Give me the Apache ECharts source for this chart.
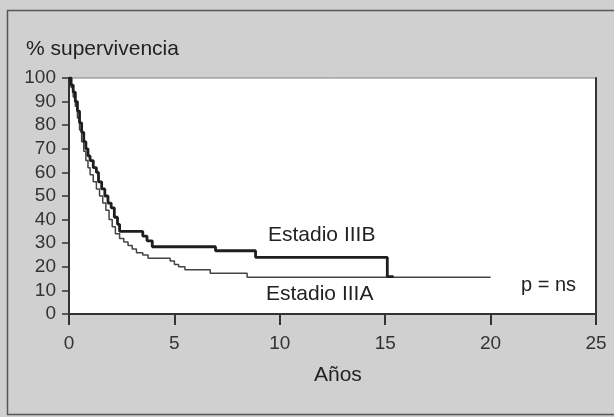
<!DOCTYPE html>
<html><head><meta charset="utf-8">
<script src="https://cdn.jsdelivr.net/npm/echarts@6/dist/echarts.min.js"></script>
<style>html,body{margin:0;padding:0;background:#d0d0d0;}#c{width:614px;height:417px;}</style>
</head><body><div id="c"></div>
<script>
// Kaplan-Meier steps: [years, % survival]
const estadioIIIB = [
 [0,100],[0.1,97],[0.2,94],[0.3,90],[0.4,86],[0.5,81],[0.6,77],[0.7,73],[0.8,70],[0.9,67],
 [1.0,65],[1.15,62],[1.3,60],[1.4,56],[1.55,53],[1.7,50],[1.85,47],[2.0,45],[2.15,41],[2.3,38],
 [2.4,35],[3.5,33],[3.7,31],[3.95,28.5],[6.95,26.8],[8.85,24],[15.1,15.8],[15.4,15.8]
];
const estadioIIIA = [
 [0,100],[0.1,96],[0.2,92],[0.3,88],[0.4,83],[0.5,78],[0.6,73],[0.7,69],[0.8,65],[0.9,62],
 [1.0,59],[1.15,56],[1.3,53],[1.45,50],[1.6,47],[1.75,44],[1.9,40],[2.05,37],[2.2,34],[2.4,32],
 [2.6,30.5],[2.8,29],[3.0,27.5],[3.2,26],[3.5,25],[3.75,23.6],[4.8,22.5],[5.0,21],[5.2,20],
 [5.5,18.7],[6.7,17.3],[8.45,15.6],[20,15.6]
];
const xTicks = [0,5,10,15,20,25];
const yTicks = [0,10,20,30,40,50,60,70,80,90,100];
const labels = {y:'% supervivencia', x:'Años', b:'Estadio IIIB', a:'Estadio IIIA', p:'p = ns'};

const FONT = 'Liberation Sans, Arial, sans-serif';
const chart = echarts.init(document.getElementById('c'));
chart.setOption({
  backgroundColor: '#d0d0d0',
  animation: false,
  grid: {left:69, top:78, right:18, bottom:103, show:true, backgroundColor:'#ffffff', borderColor:'#808080', borderWidth:1},
  xAxis: {type:'value', min:xTicks[0], max:xTicks[xTicks.length-1], interval:5,
    axisLine:{show:true, onZero:false, lineStyle:{color:'#333', width:2}},
    axisTick:{show:true, length:11, lineStyle:{color:'#333', width:2}},
    axisLabel:{margin:20, fontSize:19, color:'#333', fontFamily:FONT},
    splitLine:{show:false}},
  yAxis: [{type:'value', min:yTicks[0], max:yTicks[yTicks.length-1], interval:10,
    axisLine:{show:true, lineStyle:{color:'#333', width:2}},
    axisTick:{show:true, length:7, lineStyle:{color:'#333', width:1.5}},
    axisLabel:{margin:13, fontSize:19, color:'#333', fontFamily:FONT},
    splitLine:{show:false}},
   {type:'value', min:0, max:100, position:'right',
    axisLine:{show:true, lineStyle:{color:'#333', width:2}},
    axisTick:{show:false}, axisLabel:{show:false}, splitLine:{show:false}}],
  series: [
    {type:'line', step:'end', data:estadioIIIA, symbol:'none', lineStyle:{color:'#444', width:1.5}, z:2},
    {type:'line', step:'end', data:estadioIIIB, symbol:'none', lineStyle:{color:'#1e1e1e', width:2.8}, z:3}
  ],
  graphic: [
    {type:'rect', shape:{x:7.5, y:10.5, width:620, height:404}, style:{fill:null, stroke:'#555', lineWidth:1.5}, silent:true, z:-1},
    {type:'text', left:26, top:39, style:{text:labels.y, font:'21px '+FONT, fill:'#222'}},
    {type:'text', left:314, top:365, style:{text:labels.x, font:'21px '+FONT, fill:'#222'}},
    {type:'text', left:268, top:225, style:{text:labels.b, font:'21px '+FONT, fill:'#222'}},
    {type:'text', left:266, top:284, style:{text:labels.a, font:'21px '+FONT, fill:'#222'}},
    {type:'text', left:521, top:275, style:{text:'p\u2009=\u2009ns'.replace(/\u2009/g,' ') , font:'20px '+FONT, fill:'#222'}}
  ]
});
</script></body></html>
